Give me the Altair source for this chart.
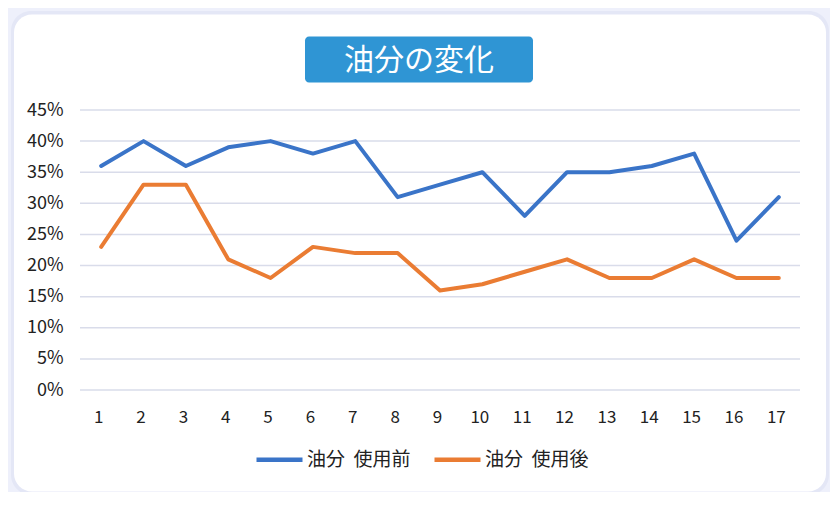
import altair as alt
import pandas as pd

# ---- data ----
samples = list(range(1, 18))
before = [36, 40, 36, 39, 40, 38, 40, 31, 33, 35, 28, 35, 35, 36, 38, 24, 31]
after = [23, 33, 33, 21, 18, 23, 22, 22, 16, 17, 19, 21, 18, 18, 21, 18, 18]
series_names = ["油分\u00a0\u00a0使用前", "油分\u00a0\u00a0使用後"]
series_colors = ["#3a74c8", "#ea7c33"]
y_ticks = [0, 5, 10, 15, 20, 25, 30, 35, 40, 45]
title_text = "油分の変化"

FONT = "Noto Sans CJK JP"

df = pd.DataFrame({
    "sample": samples * 2,
    "value": before + after,
    "series": [series_names[0]] * len(samples) + [series_names[1]] * len(samples),
})
grid_df = pd.DataFrame({"value": y_ticks})
one = pd.DataFrame({"a": [0]})

W, H = 720, 280

y_scale = alt.Scale(domain=[0, 45])
y_axis = alt.Axis(
    title=None, values=y_ticks, labelExpr="datum.value + '%'",
    domain=False, ticks=False, grid=False,
    labelFont=FONT, labelFontSize=18, labelColor="#222222",
    labelPadding=17, zindex=1, labelOverlap=False,
)

card_shadow = alt.Chart(one).mark_rect(
    color="#e4e7f6", cornerRadius=20, clip=False
).encode(x=alt.value(-69), x2=alt.value(749), y=alt.value(-99), y2=alt.value(385))

card = alt.Chart(one).mark_rect(
    color="white", cornerRadius=18, clip=False
).encode(x=alt.value(-66), x2=alt.value(746), y=alt.value(-95.5), y2=alt.value(381.5))

title_box = alt.Chart(one).mark_rect(
    color="#2f95d4", cornerRadius=4, clip=False
).encode(x=alt.value(225), x2=alt.value(453), y=alt.value(-73.5), y2=alt.value(-27.5))

title = alt.Chart(one).mark_text(
    text=title_text, font=FONT, fontSize=30, color="white",
    align="center", baseline="middle", clip=False
).encode(x=alt.value(339), y=alt.value(-49))

grid = alt.Chart(grid_df).mark_rule(color="#d9dcea", strokeWidth=1.5).encode(
    y=alt.Y("value:Q", scale=y_scale, axis=y_axis)
)

lines = alt.Chart(df).mark_line(
    strokeWidth=4, strokeJoin="round", strokeCap="round"
).encode(
    x=alt.X(
        "sample:O",
        scale=alt.Scale(type="point", padding=0.5),
        axis=alt.Axis(
            title=None, labelAngle=0, domain=False, ticks=False, grid=False,
            labelFont=FONT, labelFontSize=17, labelColor="#222222",
            labelPadding=19, zindex=1, labelOverlap=False, labelOffset=-3,
        ),
    ),
    y=alt.Y("value:Q", scale=y_scale, axis=y_axis),
    color=alt.Color(
        "series:N",
        scale=alt.Scale(domain=series_names, range=series_colors),
        legend=alt.Legend(
            title=None, orient="none", direction="horizontal",
            legendX=174, legendY=324,
            symbolType="stroke", symbolSize=2116, symbolStrokeWidth=4.5,
            labelFont=FONT, labelFontSize=19, labelColor="#222222",
            labelOffset=2, columnPadding=14, symbolOffset=0, zindex=1,
        ),
    ),
)

chart = alt.layer(card_shadow, card, title_box, title, grid, lines).properties(
    width=W,
    height=H,
    background="#eef0fb",
    padding={"left": 72, "top": 102, "right": 30, "bottom": 102},
    autosize=alt.AutoSizeParams(type="none"),
).configure_view(stroke=None)

chart.save("out.html", embed_options={"renderer": "svg", "actions": False})
